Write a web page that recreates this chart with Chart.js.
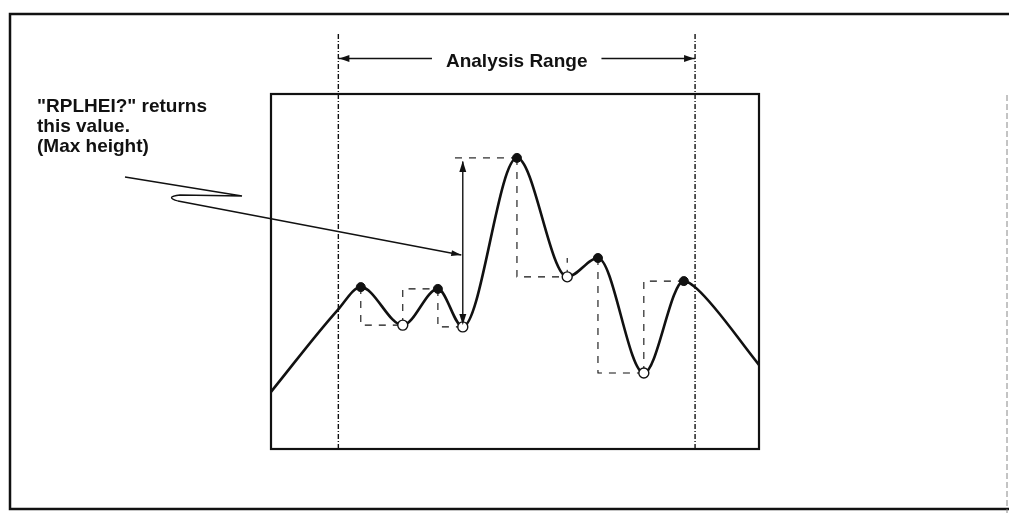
<!DOCTYPE html>
<html>
<head>
<meta charset="utf-8">
<script src="https://cdn.jsdelivr.net/npm/chart.js@4"></script>
<style>
  html, body { margin: 0; padding: 0; background: #fff; }
  #wrap { width: 1009px; height: 513px; position: relative; }
</style>
</head>
<body>
<div id="wrap"><canvas id="js--chart-1"></canvas></div>
<script>
// trace (x = % of span, y = % of screen height)
const traceX = [0, 13.7, 18.4, 27.0, 34.2, 39.3, 50.4, 60.7, 67.0, 76.4, 84.6, 87.3, 100];
const traceY = [16.1, 39.2, 45.6, 34.9, 45.1, 34.4, 82.0, 48.5, 53.8, 21.4, 47.3, 45.1, 23.7];
// which trace points are peaks and pits
const peakIdx = [2, 4, 6, 8, 10];
const pitIdx = [3, 5, 7, 9];
// analysis range limits
const rangeStart = 13.8;
const rangeStop = 86.9;
const rangeTop = 117.5;
const rangeArrowLevel = 110;
const labelRange = "Analysis Range";
const noteLines = ['"RPLHEI?" returns', 'this value.', '(Max height)'];

const INK = '#111';
const FONT = 'bold 19px "Liberation Sans", Arial, sans-serif';

const pt = i => ({ x: traceX[i], y: traceY[i] });

// guide lines between successive extremes: down/up to next level, then across
const extremes = peakIdx.concat(pitIdx).sort((a, b) => a - b);
let maxRise = null;
let best = 0;
const guideSets = [];
for (let k = 0; k < extremes.length - 1; k++) {
    const diff = pt(extremes[k + 1]).y - pt(extremes[k]).y;
    if (diff > best) { best = diff; maxRise = k; }
}
for (let k = 0; k < extremes.length - 1; k++) {
    const a = pt(extremes[k]);
    const b = pt(extremes[k + 1]);
    if (k === maxRise) {
        // max height: dashed level line plus solid double arrow
        guideSets.push({
            data: [{ x: a.x - 1.6, y: b.y }, { x: b.x, y: b.y }],
            borderDash: [7, 7], borderWidth: 1.1
        });
        guideSets.push({
            data: [{ x: a.x, y: a.y + 1 }, { x: a.x, y: b.y - 1 }],
            borderDash: [], borderWidth: 1.4
        });
        continue;
    }
    const pts = [{ x: a.x, y: a.y }, { x: a.x, y: b.y }];
    if (extremes[k] !== 7) pts.push({ x: b.x, y: b.y });
    guideSets.push({ data: pts, borderDash: [7, 7], borderWidth: 1.1 });
}

const datasets = [
    {
        label: 'peaks',
        data: peakIdx.map(pt),
        showLine: false,
        pointRadius: 4.5,
        pointBackgroundColor: INK,
        pointBorderColor: INK,
        order: 0
    },
    {
        label: 'pits',
        data: pitIdx.map(pt),
        showLine: false,
        pointRadius: 5,
        pointBackgroundColor: '#fff',
        pointBorderColor: INK,
        pointBorderWidth: 1.4,
        order: 0
    },
    {
        label: 'trace',
        data: traceX.map((x, i) => pt(i)),
        borderColor: INK,
        borderWidth: 2.6,
        pointRadius: 0,
        cubicInterpolationMode: 'monotone',
        order: 1
    }
];
guideSets.forEach(g => datasets.push({
    label: 'guide',
    data: g.data,
    borderColor: INK,
    borderWidth: g.borderWidth,
    borderDash: g.borderDash,
    pointRadius: 0,
    tension: 0,
    order: 2
}));
[rangeStart, rangeStop].forEach(x => datasets.push({
    label: 'range',
    data: [{ x: x, y: 0 }, { x: x, y: rangeTop }],
    borderColor: INK,
    borderWidth: 1.4,
    borderDash: [5, 2, 1, 2],
    pointRadius: 0,
    clip: false,
    order: 3
}));

function arrowHead(ctx, x1, y1, x2, y2, len, half) {
    const ang = Math.atan2(y2 - y1, x2 - x1);
    ctx.beginPath();
    ctx.moveTo(x2, y2);
    ctx.lineTo(x2 - len * Math.cos(ang) + half * Math.sin(ang), y2 - len * Math.sin(ang) - half * Math.cos(ang));
    ctx.lineTo(x2 - len * Math.cos(ang) - half * Math.sin(ang), y2 - len * Math.sin(ang) + half * Math.cos(ang));
    ctx.closePath();
    ctx.fill();
}

const decor = {
    id: 'decor',
    afterDatasetsDraw(chart) {
        const ctx = chart.ctx;
        const a = chart.chartArea;
        const xs = chart.scales.x, ys = chart.scales.y;
        ctx.save();
        ctx.strokeStyle = INK;
        ctx.fillStyle = INK;

        // screen box
        ctx.lineWidth = 2.2;
        ctx.strokeRect(a.left, a.top, a.right - a.left, a.bottom - a.top);

        // outer frame
        ctx.lineWidth = 2.5;
        ctx.beginPath();
        ctx.moveTo(1009, 14); ctx.lineTo(10, 14); ctx.lineTo(10, 509); ctx.lineTo(1009, 509);
        ctx.stroke();
        ctx.lineWidth = 1;
        ctx.strokeStyle = '#888';
        ctx.setLineDash([6, 3]);
        ctx.beginPath();
        ctx.moveTo(1007, 95); ctx.lineTo(1007, 513);
        ctx.stroke();
        ctx.setLineDash([]);
        ctx.strokeStyle = INK;

        // max height arrows
        const up = pt(extremes[maxRise + 1]);
        const lo = pt(extremes[maxRise]);
        const mx = xs.getPixelForValue(lo.x);
        arrowHead(ctx, mx, ys.getPixelForValue(lo.y), mx, ys.getPixelForValue(up.y) + 3, 11, 3.5);
        arrowHead(ctx, mx, ys.getPixelForValue(up.y), mx, ys.getPixelForValue(lo.y) - 2, 11, 3.5);

        // analysis range
        ctx.font = FONT;
        ctx.textAlign = 'center';
        ctx.textBaseline = 'middle';
        const rx1 = xs.getPixelForValue(rangeStart);
        const rx2 = xs.getPixelForValue(rangeStop);
        const ry = ys.getPixelForValue(rangeArrowLevel);
        const cx = (rx1 + rx2) / 2;
        const tw = ctx.measureText(labelRange).width;
        ctx.fillText(labelRange, cx, ry + 3);
        ctx.lineWidth = 1.6;
        ctx.beginPath();
        ctx.moveTo(rx1, ry); ctx.lineTo(cx - tw / 2 - 14, ry);
        ctx.moveTo(cx + tw / 2 + 14, ry); ctx.lineTo(rx2, ry);
        ctx.stroke();
        arrowHead(ctx, rx2 - 20, ry, rx2 - 1, ry, 10, 3.5);
        arrowHead(ctx, rx1 + 20, ry, rx1 + 1, ry, 10, 3.5);

        // note and pointer
        ctx.textAlign = 'left';
        ctx.textBaseline = 'alphabetic';
        noteLines.forEach((t, i) => ctx.fillText(t, 37, 112 + i * 20));
        const tipX = mx - 1.5, tipY = 255;
        ctx.lineWidth = 1.3;
        ctx.beginPath();
        ctx.moveTo(125, 177);
        ctx.lineTo(242, 196);
        ctx.lineTo(180, 195);
        ctx.quadraticCurveTo(164, 197, 178, 201);
        ctx.lineTo(tipX, tipY);
        ctx.stroke();
        arrowHead(ctx, 178, 201, tipX, tipY, 10, 3);
        ctx.restore();
    }
};

new Chart(document.getElementById("js--chart-1"), {
    type: 'line',
    data: { datasets: datasets },
    options: {
        responsive: true,
        maintainAspectRatio: false,
        animation: false,
        events: [],
        layout: { padding: { left: 271, right: 250, top: 94, bottom: 64 } },
        scales: {
            x: { type: 'linear', min: 0, max: 100, display: false },
            y: { type: 'linear', min: 0, max: 100, display: false }
        },
        plugins: { legend: { display: false }, tooltip: { enabled: false } }
    },
    plugins: [decor]
});
</script>
</body>
</html>
